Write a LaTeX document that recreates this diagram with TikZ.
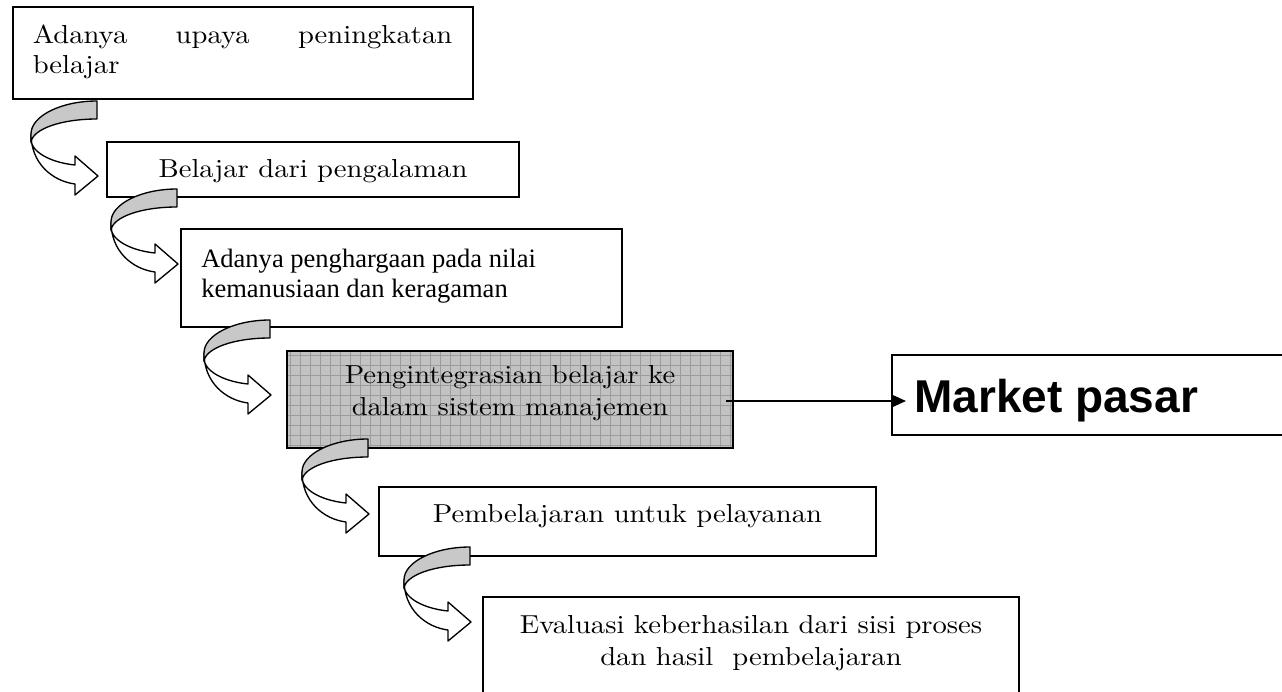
\documentclass[tikz,border=0pt]{standalone}
\usepackage{fontspec}
\setmainfont{lmroman10-regular.otf}
\newfontfamily\tmsfont{Liberation Serif}
\newfontfamily\arlfont{Liberation Sans}
\usetikzlibrary{arrows.meta}
\newcommand\sx[1]{\scalebox{1.1}[1]{#1}}
\definecolor{crescent}{HTML}{C8C8C8}
\definecolor{shadefill}{HTML}{C2C2C2}
\definecolor{gridc}{HTML}{9C9C9C}
\tikzset{
  boxnode/.style={draw=black, line width=1.4pt, inner sep=0pt, fill=white},
  lmtxt/.style={font=\fontsize{19.5}{23}\selectfont, inner sep=0pt},
  tmtxt/.style={font=\tmsfont\fontsize{19.9}{23}\selectfont, inner sep=0pt},
  mkttxt/.style={font=\arlfont\bfseries\fontsize{34.5}{40}\selectfont, inner sep=0pt},
  bandline/.style={draw=black, line width=1pt, line join=round},
  connline/.style={line width=1.5pt, -{Triangle[length=9.75pt,width=8.5pt]}},
  carrow/.pic={
    \filldraw[bandline, fill=white] (-66,33) .. controls (-66,62) and (-45,80) .. (-22,83)
      -- (-22,94) -- (1,75) -- (-22,55) -- (-22,64)
      .. controls (-42,62) and (-62,54) .. (-66,41) -- cycle;
    \filldraw[bandline, fill=crescent] (0,0) .. controls (-36,0) and (-66,15) .. (-66,33)
      -- (-66,41) .. controls (-64,28) and (-36,18) .. (0,18) -- cycle;
  }
}
\begin{document}
\begin{tikzpicture}[x=0.75pt, y=-0.75pt]
\useasboundingbox (0,0) rectangle (1282,692);
% boxes
\node[boxnode, minimum width=460*0.75pt, minimum height=92*0.75pt] (b1) at (243,53) {};
\node[boxnode, minimum width=412*0.75pt, minimum height=55*0.75pt] (b2) at (313,169.5) {};
\node[boxnode, minimum width=441*0.75pt, minimum height=98*0.75pt] (b3) at (401.5,278) {};
\node[boxnode, fill=shadefill, minimum width=446*0.75pt, minimum height=97*0.75pt] (b4) at (510,399.5) {};
\begin{scope}
  \clip (287,351) rectangle (733,448);
  \foreach \gx in {290,300,...,730} \draw[gridc, line width=0.5pt] (\gx,351) -- (\gx,448);
  \foreach \gy in {355,365,...,445} \draw[gridc, line width=0.5pt] (287,\gy) -- (733,\gy);
\end{scope}
\node[draw=black, line width=1.4pt, inner sep=0pt, minimum width=446*0.75pt, minimum height=97*0.75pt] (b4f) at (510,399.5) {};
\node[boxnode, minimum width=408*0.75pt, minimum height=80*0.75pt] (mk) at (1096,395) {};
\node[boxnode, minimum width=497*0.75pt, minimum height=69*0.75pt] (b5) at (627.5,521.5) {};
\node[boxnode, minimum width=536*0.75pt, minimum height=113*0.75pt] (b6) at (751,653.5) {};
% texts
\node[lmtxt, anchor=base west] (t1a) at (32.5,44) {\sx{\hbox to 286pt{Adanya\hfill upaya\hfill peningkatan}}};
\node[lmtxt, anchor=base west] (t1b) at (32.5,74) {\sx{belajar}};
\node[lmtxt, anchor=base] (t2) at (313,177) {\sx{Belajar dari pengalaman}};
\node[tmtxt, anchor=base west] (t3a) at (201,267) {Adanya penghargaan pada nilai};
\node[tmtxt, anchor=base west] (t3b) at (201,297) {kemanusiaan dan keragaman};
\node[lmtxt, anchor=base] (t4a) at (510,383) {\sx{Pengintegrasian belajar ke}};
\node[lmtxt, anchor=base] (t4b) at (510,415) {\sx{dalam sistem manajemen}};
\node[lmtxt, anchor=base] (t5) at (627.5,522) {\sx{Pembelajaran untuk pelayanan}};
\node[lmtxt, anchor=base] (t6a) at (751,633) {\sx{Evaluasi keberhasilan dari sisi proses}};
\node[lmtxt, anchor=base] (t6b) at (751,665) {\sx{dan hasil\ \ pembelajaran}};
\node[mkttxt, anchor=base west] (t7) at (914,412) {Market pasar};
% curved arrows
\pic at (97,101) {carrow};
\pic at (177,189) {carrow};
\pic at (270,320) {carrow};
\pic at (368,439) {carrow};
\pic at (470,547) {carrow};
% connector
\coordinate (ms) at (726,401);
\coordinate (me) at (906,401);
\draw[connline] (ms) -- (me);
\end{tikzpicture}
\end{document}
